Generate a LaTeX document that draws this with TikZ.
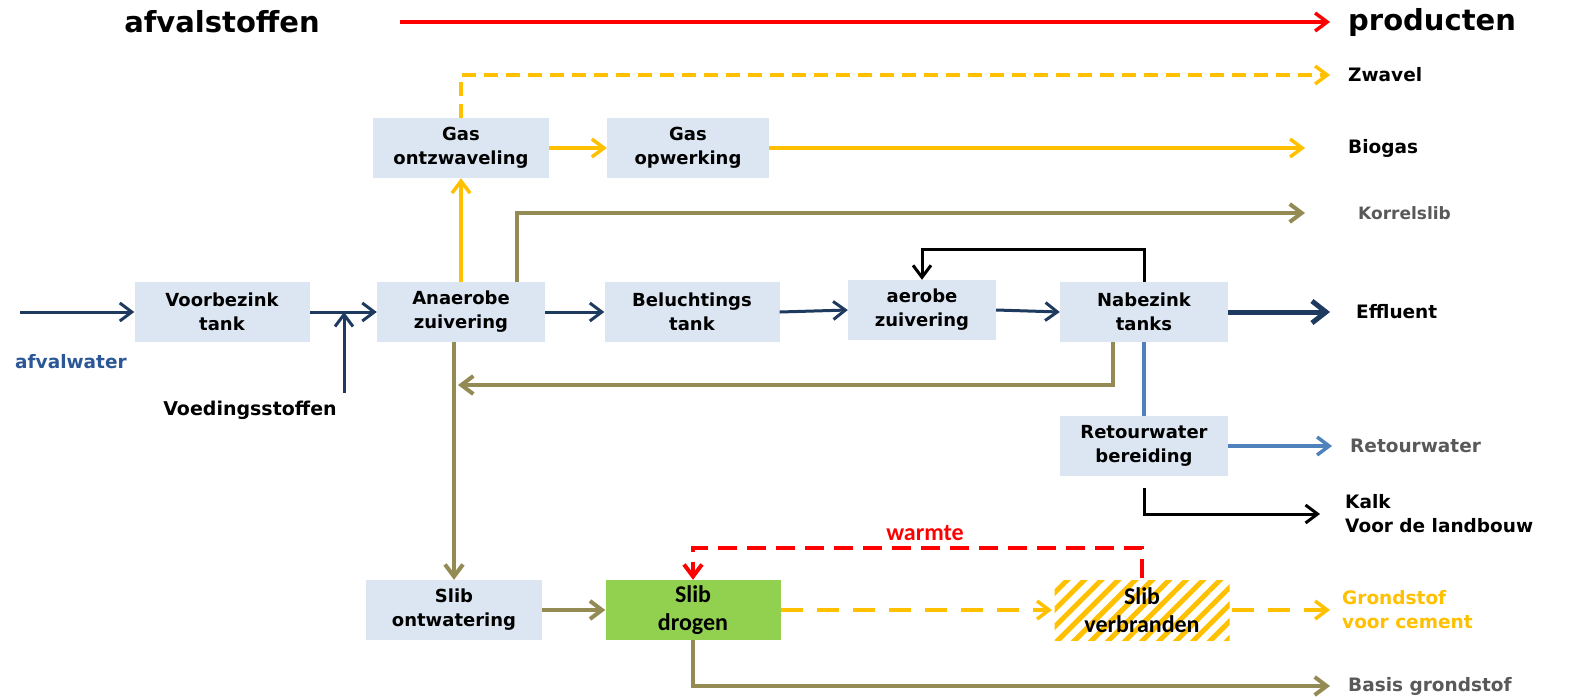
\documentclass[tikz,border=0pt]{standalone}
\usepackage{fontspec}
\setmainfont{DejaVu Sans}
\newfontfamily\calfont{Carlito}
\usetikzlibrary{arrows.meta,positioning,patterns.meta}
\definecolor{navyline}{HTML}{1F3A5F}
\definecolor{goldline}{HTML}{FFC000}
\definecolor{oliveline}{HTML}{948A54}
\definecolor{boxblue}{HTML}{DCE6F2}
\definecolor{dryergreen}{HTML}{92D050}
\definecolor{retblue}{HTML}{4F81BD}
\definecolor{lblgray}{HTML}{595959}
\definecolor{waterblue}{HTML}{2B5797}
\tikzset{
  procshape/.style={minimum width=175pt, minimum height=60pt, inner sep=0pt, align=center,
    font=\fontsize{18}{24}\selectfont\bfseries},
  proc/.style={procshape, fill=boxblue},
  calib/.style={font=\calfont\bfseries\fontsize{24}{28}\selectfont},
  lbl/.style={anchor=west, inner sep=0pt, align=left, font=\fontsize{18.5}{24}\selectfont\bfseries},
  tip/.style={-{Straight Barb[length=12pt,width=18pt]}},
  navy/.style={draw=navyline, line width=3pt},
  gold/.style={draw=goldline, line width=3.5pt},
  olive/.style={draw=oliveline, line width=4pt},
  blk/.style={draw=black, line width=3pt},
}
\begin{document}
\begin{tikzpicture}[x=1pt,y=-1pt]
\useasboundingbox (0,0) rectangle (1573,697);

% kop
\node[inner sep=0pt, font=\fontsize{29}{34}\selectfont\bfseries] (afval) at (222,22) {afvalstoffen};
\node[lbl, font=\fontsize{29}{34}\selectfont\bfseries] (prod) at (1348,22) {producten};
\draw[red, line width=3.5pt, tip] ([xshift=80pt]afval.east) -- ([xshift=-18pt]prod.west);

% processen
\node[proc] (vbz) at (222,312) {Voorbezink\\tank};
\node[proc, minimum width=168pt] (anz) at (461,312) {Anaerobe\\zuivering};
\node[proc, minimum width=176pt] (goz) at (461,148) {Gas\\ontzwaveling};
\node[proc, minimum width=162pt] (gow) at (688,148) {Gas\\opwerking};
\node[proc] (blt) at (692,312) {Beluchtings\\tank};
\node[proc, minimum width=148pt] (aer) at (922,310) {aerobe\\zuivering};
\node[proc, minimum width=168pt] (nbz) at (1144,312) {Nabezink\\tanks};
\node[proc, minimum width=168pt] (rwb) at (1144,446) {Retourwater\\bereiding};
\node[proc, minimum width=176pt] (slo) at (454,610) {Slib\\ontwatering};
\node[procshape, fill=dryergreen, calib] (sld) at (693,610) {Slib\\drogen};
\node[procshape, pattern={Lines[angle=45,distance=12pt,line width=5pt]}, pattern color=goldline, calib] (slv) at (1142,610) {Slib\\verbranden};

% producten
\node[lbl] (zwavel) at (1348,75) {Zwavel};
\node[lbl] (biogas) at (1348,148) {Biogas};
\node[lbl, text=lblgray, font=\fontsize{17}{22}\selectfont\bfseries] (korrel) at (1358,213) {Korrelslib};
\node[lbl] (effl) at (1356,312) {Effluent};
\node[lbl, text=lblgray] (retw) at (1350,446) {Retourwater};
\node[lbl] (kalk) at (1345,514) {Kalk\\Voor de landbouw};
\node[lbl, text=goldline] (grond) at (1342,610) {Grondstof\\voor cement};
\node[lbl, text=lblgray] (basis) at (1348,686) {Basis grondstof};
\node[lbl, text=waterblue] (afw) at (15,362) {afvalwater};
\node[inner sep=0pt, font=\fontsize{19}{24}\selectfont\bfseries] (voed) at (250,410) {Voedingsstoffen};
\node[calib, text=red] (warm) at (925,533) {warmte};

\coordinate (win) at (20,312);
\coordinate (vin) at (344,393);
\coordinate (ret) at (458,385);

% gas
\draw[gold, tip] (anz.north) -- (goz.south);
\draw[gold, tip] (goz.east) -- (gow.west);
\draw[gold, tip] (gow.east) -- ([xshift=-43pt]biogas.west);
\draw[gold, dash pattern=on 14pt off 8pt, tip] (goz.north) |- ([xshift=-18pt]zwavel.west);
\draw[olive, tip] ([xshift=56pt]anz.north) |- ([xshift=-53pt]korrel.west);

% waterlijn
\draw[navy, tip] (win) -- (vbz.west);
\draw[navy, tip] (vbz.east) -- (anz.west);
\draw[navy, tip] (vin) -- (vin |- anz.west);
\draw[navy, tip] (anz.east) -- (blt.west);
\draw[navy, tip] (blt.east) -- (aer.west);
\draw[navy, tip] (aer.east) -- (nbz.west);
\draw[navy, line width=5pt, -{Straight Barb[length=14pt,width=22pt]}] (nbz.east) -- ([xshift=-26pt]effl.west);
\draw[blk, tip] (nbz.north) -- ++(0,-32) -| (aer.north);
\draw[olive, tip] ([xshift=-31pt]nbz.south) |- (ret);
\draw[olive, tip] (slo.north |- anz.south) -- (slo.north);
\draw[retblue, line width=3.5pt] (nbz.south) -- (rwb.north);
\draw[retblue, line width=3.5pt, tip] (rwb.east) -- ([xshift=-18pt]retw.west);
\draw[blk, tip] ([yshift=-12pt]rwb.south) |- ([xshift=-25pt]kalk.west);

% slib
\draw[olive, tip] (slo.east) -- (sld.west);
\draw[gold, dash pattern=on 22pt off 14pt, tip] (sld.east) -- (slv.west);
\draw[gold, dash pattern=on 22pt off 14pt, tip] (slv.east) -- ([xshift=-12pt]grond.west);
\draw[red, line width=4pt, dash pattern=on 19pt off 10pt, tip] (slv.north) -- ++(0,-30) -| (sld.north);
\draw[olive, tip] (sld.south) |- ([xshift=-18pt]basis.west);
\end{tikzpicture}
\end{document}
